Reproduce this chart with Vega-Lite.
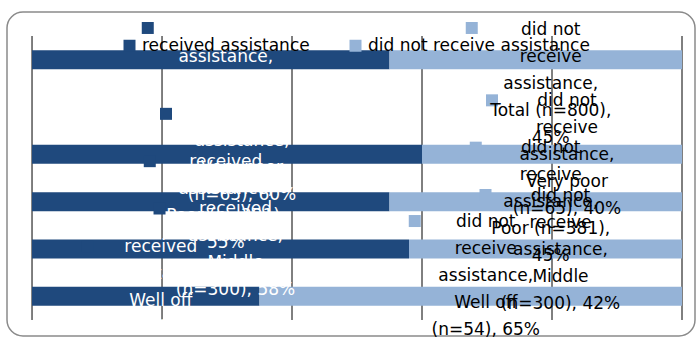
{
  "$schema": "https://vega.github.io/schema/vega-lite/v6.json",
  "width": 688,
  "height": 324,
  "autosize": {"type": "none"},
  "padding": {"left": 7, "top": 12, "right": 5, "bottom": 4},
  "background": "white",
  "config": {
    "view": {"stroke": "#8a8a8a", "strokeWidth": 1.5, "cornerRadius": 16},
    "font": "DejaVu Sans"
  },
  "data": {
    "values": [
      {"group": "Total (n=800)", "series": "received assistance", "pct": 55, "label": ["received", "assistance,", "Total (n=800),", "55%"]},
      {"group": "Total (n=800)", "series": "did not receive assistance", "pct": 45, "label": ["did not", "receive", "assistance,", "Total (n=800),", "45%"]},
      {"group": "Very poor (n=65)", "series": "received assistance", "pct": 60, "label": ["received", "assistance,", "Very poor", "(n=65), 60%"]},
      {"group": "Very poor (n=65)", "series": "did not receive assistance", "pct": 40, "label": ["did not", "receive", "assistance,", "Very poor", "(n=65), 40%"]},
      {"group": "Poor (n=381)", "series": "received assistance", "pct": 55, "label": ["received", "assistance,", "Poor (n=381),", "55%"]},
      {"group": "Poor (n=381)", "series": "did not receive assistance", "pct": 45, "label": ["did not", "receive", "assistance,", "Poor (n=381),", "45%"]},
      {"group": "Middle (n=300)", "series": "received assistance", "pct": 58, "label": ["received", "assistance,", "Middle", "(n=300), 58%"]},
      {"group": "Middle (n=300)", "series": "did not receive assistance", "pct": 42, "label": ["did not", "receive", "assistance,", "Middle", "(n=300), 42%"]},
      {"group": "Well off (n=54)", "series": "received assistance", "pct": 35, "label": ["received", "assistance,", "Well off", "(n=54), 35%"]},
      {"group": "Well off (n=54)", "series": "did not receive assistance", "pct": 65, "label": ["did not", "receive", "assistance,", "Well off", "(n=54), 65%"]}
    ]
  },
  "layer": [
    {
      "data": {"values": [{"g": 0}, {"g": 20}, {"g": 40}, {"g": 60}, {"g": 80}, {"g": 100}]},
      "mark": {"type": "rule", "color": "#000000", "strokeWidth": 1},
      "encoding": {
        "x": {"field": "g", "type": "quantitative", "axis": null, "scale": {"domain": [-3.85, 102], "nice": false, "zero": false}},
        "y": {"datum": "Total (n=800)", "type": "nominal", "bandPosition": -0.75, "axis": null},
        "y2": {"datum": "Well off (n=54)", "bandPosition": 1.75}
      }
    },
    {
      "transform": [
        {"stack": "pct", "groupby": ["group"], "sort": [{"field": "series", "order": "descending"}], "as": ["x0", "x1"]},
        {"calculate": "(datum.x0 + datum.x1) / 2", "as": "mid"}
      ],
      "layer": [
        {
          "mark": {"type": "bar"},
          "encoding": {
            "x": {"field": "x0", "type": "quantitative", "axis": null},
            "x2": {"field": "x1"},
            "y": {"field": "group", "type": "nominal", "axis": null,
              "scale": {"domain": ["Total (n=800)", " ", "Very poor (n=65)", "Poor (n=381)", "Middle (n=300)", "Well off (n=54)"], "paddingInner": 0.6, "paddingOuter": 0.7226, "align": 0.5585}},
            "color": {"field": "series", "type": "nominal",
              "scale": {"domain": ["received assistance", "did not receive assistance"], "range": ["#1F497D", "#95B3D7"]},
              "legend": {"title": null, "orient": "none", "legendX": 114, "legendY": 25, "direction": "horizontal", "symbolType": "square", "symbolSize": 144, "symbolStrokeWidth": 0, "labelFont": "DejaVu Sans", "labelFontSize": 17, "labelColor": "#000000", "labelOffset": 4, "labelLimit": 400, "columnPadding": 37, "padding": 0}}
          }
        },
        {
          "transform": [{"filter": "datum.series === 'received assistance' && datum.group !== 'Total (n=800)' && datum.group !== 'Well off (n=54)'"}],
          "layer": [
            {"mark": {"type": "point", "shape": "square", "size": 144, "filled": true, "opacity": 1, "color": "#1F497D", "strokeWidth": 0, "xOffset": -61, "yOffset": -40.5},
             "encoding": {"x": {"field": "mid", "type": "quantitative", "axis": null}, "y": {"field": "group", "type": "nominal", "axis": null}}},
            {"mark": {"type": "text", "color": "#FFFFFF", "fontSize": 17, "lineHeight": 27, "baseline": "middle", "dx": 15, "dy": -40},
             "encoding": {"x": {"field": "mid", "type": "quantitative", "axis": null}, "y": {"field": "group", "type": "nominal", "axis": null}, "text": {"field": "label"}}}
          ]
        },
        {
          "transform": [{"filter": "datum.series === 'received assistance' && datum.group === 'Total (n=800)'"}],
          "layer": [
            {"mark": {"type": "point", "shape": "square", "size": 144, "filled": true, "opacity": 1, "color": "#1F497D", "strokeWidth": 0, "xOffset": -63, "yOffset": -31.7},
             "encoding": {"x": {"field": "mid", "type": "quantitative", "axis": null}, "y": {"field": "group", "type": "nominal", "axis": null}}},
            {"mark": {"type": "text", "color": "#FFFFFF", "fontSize": 17, "lineHeight": 27, "baseline": "middle", "dx": 15, "dy": -30},
             "encoding": {"x": {"field": "mid", "type": "quantitative", "axis": null}, "y": {"field": "group", "type": "nominal", "axis": null}, "text": {"field": "label"}}}
          ]
        },
        {
          "transform": [{"filter": "datum.series === 'received assistance' && datum.group === 'Well off (n=54)'"}],
          "layer": [
            {"mark": {"type": "point", "shape": "square", "size": 144, "filled": true, "opacity": 1, "color": "#1F497D", "strokeWidth": 0, "xOffset": -58, "yOffset": -50.3},
             "encoding": {"x": {"field": "mid", "type": "quantitative", "axis": null}, "y": {"field": "group", "type": "nominal", "axis": null}}},
            {"mark": {"type": "text", "color": "#FFFFFF", "fontSize": 17, "lineHeight": 27, "baseline": "middle", "dx": 15, "dy": -49.5},
             "encoding": {"x": {"field": "mid", "type": "quantitative", "axis": null}, "y": {"field": "group", "type": "nominal", "axis": null}, "text": {"field": "label"}}}
          ]
        },
        {
          "transform": [{"filter": "datum.series === 'did not receive assistance' && datum.group !== 'Total (n=800)' && datum.group !== 'Well off (n=54)'"}],
          "layer": [
            {"mark": {"type": "point", "shape": "square", "size": 144, "filled": true, "opacity": 1, "color": "#95B3D7", "strokeWidth": 0, "xOffset": -60, "yOffset": -54},
             "encoding": {"x": {"field": "mid", "type": "quantitative", "axis": null}, "y": {"field": "group", "type": "nominal", "axis": null}}},
            {"mark": {"type": "text", "color": "#000000", "fontSize": 17, "lineHeight": 27, "baseline": "middle", "dx": 15, "dy": -53.5},
             "encoding": {"x": {"field": "mid", "type": "quantitative", "axis": null}, "y": {"field": "group", "type": "nominal", "axis": null}, "text": {"field": "label"}}}
          ]
        },
        {
          "transform": [{"filter": "datum.series === 'did not receive assistance' && datum.group === 'Total (n=800)'"}],
          "layer": [
            {"mark": {"type": "point", "shape": "square", "size": 144, "filled": true, "opacity": 1, "color": "#95B3D7", "strokeWidth": 0, "xOffset": -64, "yOffset": -31.7},
             "encoding": {"x": {"field": "mid", "type": "quantitative", "axis": null}, "y": {"field": "group", "type": "nominal", "axis": null}}},
            {"mark": {"type": "text", "color": "#000000", "fontSize": 17, "lineHeight": 27, "baseline": "middle", "dx": 15, "dy": -30},
             "encoding": {"x": {"field": "mid", "type": "quantitative", "axis": null}, "y": {"field": "group", "type": "nominal", "axis": null}, "text": {"field": "label"}}}
          ]
        },
        {
          "transform": [{"filter": "datum.series === 'did not receive assistance' && datum.group === 'Well off (n=54)'"}],
          "layer": [
            {"mark": {"type": "point", "shape": "square", "size": 144, "filled": true, "opacity": 1, "color": "#95B3D7", "strokeWidth": 0, "xOffset": -56, "yOffset": -75.3},
             "encoding": {"x": {"field": "mid", "type": "quantitative", "axis": null}, "y": {"field": "group", "type": "nominal", "axis": null}}},
            {"mark": {"type": "text", "color": "#000000", "fontSize": 17, "lineHeight": 27, "baseline": "middle", "dx": 15, "dy": -74.5},
             "encoding": {"x": {"field": "mid", "type": "quantitative", "axis": null}, "y": {"field": "group", "type": "nominal", "axis": null}, "text": {"field": "label"}}}
          ]
        }
      ]
    }
  ]
}
